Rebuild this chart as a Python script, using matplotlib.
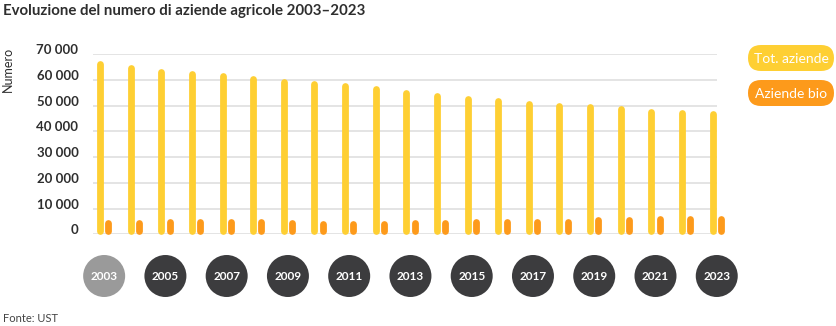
import matplotlib
matplotlib.use("Agg")
import matplotlib.pyplot as plt
from matplotlib.patches import FancyBboxPatch
from matplotlib.transforms import IdentityTransform
from matplotlib.ticker import FuncFormatter

years = list(range(2003, 2024))
tot_aziende = [67400, 65970, 64410, 63630, 62740, 61840, 60680, 59740, 58970, 57680,
               56400, 54960, 53910, 53010, 52120, 51340, 50680, 49900, 49010, 48620, 48230]
aziende_bio = [5830, 5560, 5950, 5950, 5950, 6070, 5560, 5300, 5300, 5430,
               5560, 5690, 5950, 5950, 6000, 6220, 6800, 6800, 7100, 7450, 7450]
yticks = [0, 10000, 20000, 30000, 40000, 50000, 60000, 70000]
label_years = years[::2]
legend_labels = ["Tot. aziende", "Aziende bio"]

W, H = 836, 326
FONT = "Lato"
plt.rcParams['font.family'] = [FONT, 'DejaVu Sans']

YEL = '#fecf33'
ORA = '#fd9a1b'
TXT = '#2e2e2e'

fig = plt.figure(figsize=(W / 100, H / 100), dpi=100)

def fx(px):
    return px / W

def fy(py):
    return 1 - py / H

# main axes
L, R, T, B = 93, 717, 54.3, 234.3
ax = fig.add_axes([fx(L), fy(B), fx(R) - fx(L), fy(T) - fy(B)])
px_per_year = 30.63
c0 = 104.15
xl = 2003 + (L - c0) / px_per_year
xr = 2003 + (R - c0) / px_per_year
ax.set_xlim(xl, xr)
ax.set_ylim(0, 70000)
for s in ax.spines.values():
    s.set_visible(False)
ax.set_xticks([])
ax.set_yticks(yticks)
ax.yaxis.set_major_formatter(FuncFormatter(lambda v, p: f"{int(v):,}".replace(",", " ")))
ax.tick_params(axis='y', length=0, pad=10.5, labelsize=9.5, labelcolor=TXT)
for lab in ax.get_yticklabels():
    lab.set_fontweight('bold')
    lab.set_va('baseline')
for t in yticks:
    ax.axhline(t, color='#dcdcdc', lw=1.1, zorder=0)

px_per_unit = (B - T) / 70000
lw_px = 6.8
r_data = (lw_px / 2) / px_per_unit
off = 0.136
for yr, tv, bv in zip(years, tot_aziende, aziende_bio):
    ax.plot([yr - off, yr - off], [r_data, tv - r_data], color=YEL, lw=lw_px * 0.72,
            solid_capstyle='round', clip_on=False, zorder=3)
    ax.plot([yr + off, yr + off], [r_data, bv - r_data], color=ORA, lw=lw_px * 0.72,
            solid_capstyle='round', clip_on=False, zorder=3)

# year circles
ax2 = fig.add_axes([fx(L), fy(297), fx(R) - fx(L), fy(255) - fy(297)])
ax2.set_xlim(xl, xr)
ax2.set_ylim(0, 1)
ax2.axis('off')
for i, yr in enumerate(label_years):
    col = '#9a9a9a' if i == 0 else '#3c3c3e'
    ax2.scatter([yr], [0.5], s=(42 * 0.72) ** 2, color=col, edgecolors='none', clip_on=False)
    ax2.text(yr, 0.5, str(yr), color='white', fontsize=8.5, fontweight='bold',
             ha='center', va='center_baseline')

# title & texts
fig.text(fx(3), fy(11), "Evoluzione del numero di aziende agricole 2003–2023",
         fontsize=10.8, fontweight='bold', color=TXT, ha='left', va='center')
fig.text(fx(8), fy(69), "Numero", rotation=90, fontsize=9, color=TXT,
         ha='center', va='center')
fig.text(fx(3), fy(318), "Fonte: UST", fontsize=8, color='#444444', ha='left', va='center')

# legend pills
for (y0, y1), col, lab in zip([(45, 71), (80, 106)], [YEL, ORA], legend_labels):
    x0, x1 = 748, 834
    h = y1 - y0
    patch = FancyBboxPatch((x0 + h / 2, H - y1 + h / 2), (x1 - x0) - h, 0,
                           boxstyle=f"round,pad={h / 2}", transform=IdentityTransform(),
                           facecolor=col, edgecolor='none')
    fig.patches.append(patch)
    fig.text(fx((x0 + x1) / 2), fy((y0 + y1) / 2), lab, color='white', fontsize=10,
             ha='center', va='center_baseline')

fig.savefig("out.png", dpi=100)
